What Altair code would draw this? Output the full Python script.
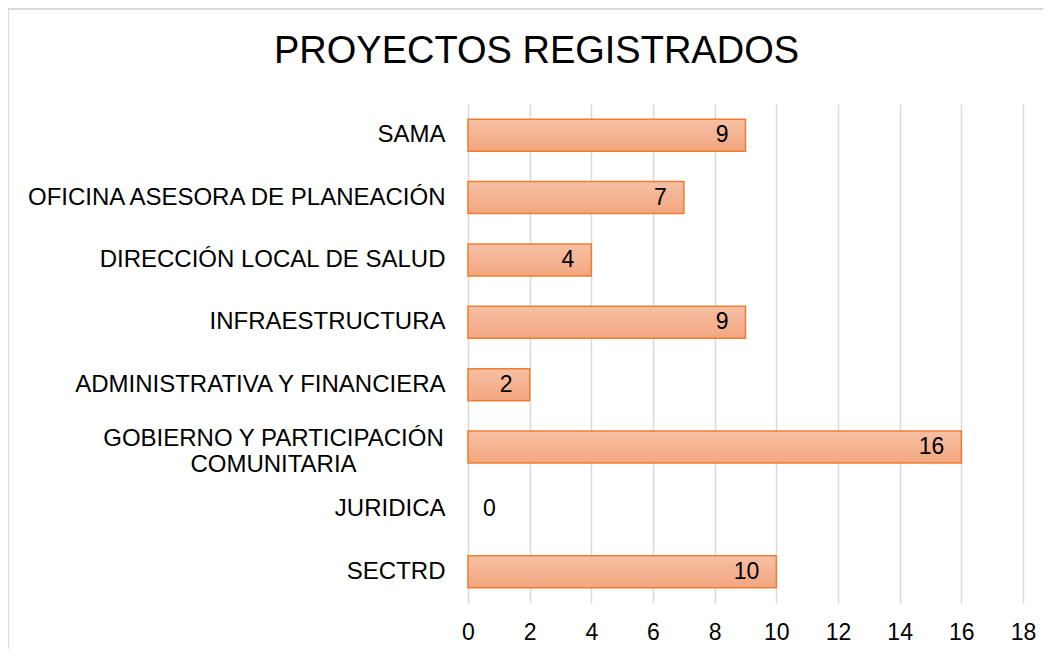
import altair as alt
import pandas as pd

categories = [
    "SAMA",
    "OFICINA ASESORA DE PLANEACIÓN",
    "DIRECCIÓN LOCAL DE SALUD",
    "INFRAESTRUCTURA",
    "ADMINISTRATIVA Y FINANCIERA",
    "GOBIERNO Y PARTICIPACIÓN COMUNITARIA",
    "JURIDICA",
    "SECTRD",
]
values = [9, 7, 4, 9, 2, 16, 0, 10]
x_ticks = [0, 2, 4, 6, 8, 10, 12, 14, 16, 18]
title_text = "PROYECTOS REGISTRADOS"

df = pd.DataFrame({"area": categories, "proyectos": values})

FONT = "Liberation Sans"
label_expr = (
    "datum.value == 'GOBIERNO Y PARTICIPACIÓN COMUNITARIA' ? "
    "['GOBIERNO Y PARTICIPACIÓN', 'COMUNITARIA'] : datum.label"
)
is_gob = "datum.value == 'GOBIERNO Y PARTICIPACIÓN COMUNITARIA'"

y_enc = alt.Y(
    "area:N",
    sort=categories,
    title=None,
    scale=alt.Scale(paddingInner=0.487, paddingOuter=0.2435),
    axis=alt.Axis(
        labelExpr=label_expr,
        labelFont=FONT,
        labelFontSize=24,
        labelColor="#000000",
        labelPadding={"condition": {"test": is_gob, "value": 195}, "value": 23},
        labelAlign={"condition": {"test": is_gob, "value": "center"}, "value": "right"},
        labelLineHeight=26,
        labelLimit=600,
        labelOffset={"condition": {"test": is_gob, "value": -8}, "value": 0},
        ticks=False,
        domain=False,
        grid=False,
    ),
)
x_enc = alt.X(
    "proyectos:Q",
    title=None,
    scale=alt.Scale(domain=[0, 18], nice=False),
    axis=alt.Axis(
        values=x_ticks,
        labelFont=FONT,
        labelFontSize=23,
        labelColor="#000000",
        labelPadding=18,
        labelFlush=False,
        ticks=False,
        domain=False,
        grid=True,
        gridColor="#D9D9D9",
        gridWidth=1.5,
    ),
)

grad = alt.Gradient(
    gradient="linear",
    stops=[
        alt.GradientStop(color="#F6C0A4", offset=0),
        alt.GradientStop(color="#F3A67F", offset=1),
    ],
    x1=0, x2=0, y1=0, y2=1,
)

bars = alt.Chart(df).mark_bar(color=grad, stroke="#ED7D31").encode(
    x=x_enc,
    y=y_enc,
    strokeWidth=alt.condition("datum.proyectos > 0", alt.value(1.5), alt.value(0)),
)

labels_pos = alt.Chart(df).transform_filter("datum.proyectos > 0").mark_text(
    align="right", baseline="middle", dx=-17, font=FONT, fontSize=23, color="#000000"
).encode(x="proyectos:Q", y=alt.Y("area:N", sort=categories), text="proyectos:Q")

labels_zero = alt.Chart(df).transform_filter("datum.proyectos == 0").mark_text(
    align="left", baseline="middle", dx=15, font=FONT, fontSize=23, color="#000000"
).encode(x="proyectos:Q", y=alt.Y("area:N", sort=categories), text="proyectos:Q")

border_top = alt.Chart(df).mark_rule(color="#D9D9D9", strokeWidth=2).encode(
    x=alt.value(-460), x2=alt.value(600), y=alt.value(-95)
)
border_left = alt.Chart(df).mark_rule(color="#D9D9D9", strokeWidth=2).encode(
    x=alt.value(-460), y=alt.value(-95), y2=alt.value(600)
)

chart = (
    alt.layer(border_top, border_left, bars, labels_pos, labels_zero)
    .properties(
        width=555,
        height=499,
        autosize=alt.AutoSizeParams(type="none"),
        padding={"left": 460, "top": 96, "right": 20, "bottom": 46},
        title=alt.TitleParams(
            title_text,
            font=FONT,
            fontSize=38,
            fontWeight="normal",
            color="#000000",
            anchor="middle",
            baseline="alphabetic",
            dx=-209,
            offset=-93,
        ),
    )
    .configure_view(stroke=None)
)

chart.save("out.html", embed_options={"renderer": "svg", "actions": False})
